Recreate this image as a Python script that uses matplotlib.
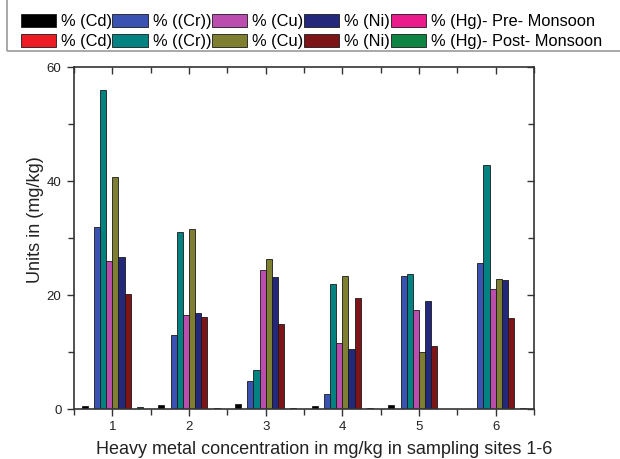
import matplotlib
matplotlib.use("Agg")
import matplotlib.pyplot as plt
from matplotlib.patches import Rectangle, Patch
from matplotlib.ticker import MultipleLocator
import numpy as np

plt.rcParams['font.family'] = ['Liberation Sans', 'DejaVu Sans']

sites = [1, 2, 3, 4, 5, 6]
cd_pre = [0.58, 0.75, 0.88, 0.58, 0.63, 0.0]
cd_post = [0.0, 0.0, 0.0, 0.0, 0.0, 0.0]
cr_pre = [32.0, 13.0, 5.0, 2.6, 23.3, 25.7]
cr_post = [55.9, 31.0, 6.9, 21.9, 23.6, 42.8]
cu_pre = [26.0, 16.5, 24.4, 11.6, 17.4, 21.1]
cu_post = [40.7, 31.5, 26.4, 23.3, 10.0, 22.8]
ni_pre = [26.6, 16.8, 23.2, 10.6, 19.0, 22.6]
ni_post = [20.2, 16.2, 15.0, 19.4, 11.1, 16.0]
hg_pre = [0.0, 0.0, 0.0, 0.0, 0.0, 0.0]
hg_post = [0.3, 0.2, 0.1, 0.1, 0.0, 0.2]

series = [cd_pre, cd_post, cr_pre, cr_post, cu_pre, cu_post, ni_pre, ni_post, hg_pre, hg_post]
labels = ["% (Cd)", "% (Cd)", "% ((Cr))", "% ((Cr))", "% (Cu)", "% (Cu)",
          "% (Ni)", "% (Ni)", "% (Hg)- Pre- Monsoon", "% (Hg)- Post- Monsoon"]
colors = ["#000000", "#ED1C24", "#3A52B2", "#048282", "#BA4DAE", "#7F7F31",
          "#23287A", "#7C1418", "#EC1B8C", "#0E8442"]

W, H = 620, 459
fig = plt.figure(figsize=(W / 100, H / 100), dpi=100)
ax = fig.add_axes([74 / W, 1 - 409 / H, (534 - 74) / W, (409 - 67) / H])

x = np.array(sites, dtype=float)
bw = 0.08
n = len(series)
for i, (vals, c) in enumerate(zip(series, colors)):
    off = (i - (n - 1) / 2) * bw
    ax.bar(x + off, vals, width=bw, color=c, edgecolor="#1a1a1a", linewidth=0.6)

ax.set_xlim(0.5, 6.5)
ax.set_ylim(0, 60)
ax.set_xticks(sites)
ax.set_yticks([0, 20, 40, 60])
ax.xaxis.set_minor_locator(MultipleLocator(0.5))
ax.yaxis.set_minor_locator(MultipleLocator(10))
for sp in ax.spines.values():
    sp.set_color("#333333")
    sp.set_linewidth(1.2)
ax.tick_params(axis='both', which='both', direction='out', color="#333333", width=1.0,
               labelsize=9.5, labelcolor="#222222")
ax.tick_params(axis='both', which='major', length=5, pad=4)
ax.tick_params(axis='both', which='minor', length=4)

# mirrored ticks on top and right (inward)
axt = ax.secondary_xaxis('top')
axt.set_xticks(sites)
axt.xaxis.set_minor_locator(MultipleLocator(0.5))
axt.tick_params(which='both', direction='in', labeltop=False, color="#333333", width=1.0)
axt.tick_params(which='major', length=5)
axt.tick_params(which='minor', length=4)
axr = ax.secondary_yaxis('right')
axr.set_yticks([0, 20, 40, 60])
axr.yaxis.set_minor_locator(MultipleLocator(10))
axr.tick_params(which='both', direction='in', labelright=False, color="#333333", width=1.0)
axr.tick_params(which='major', length=5)
axr.tick_params(which='minor', length=4)
for a in (axt, axr):
    for sp in a.spines.values():
        sp.set_visible(False)

fig.text(35 / W, 1 - 220 / H, "Units in (mg/kg)", rotation=90, ha='center', va='center',
         fontsize=13, color="#222222")
fig.text(324 / W, 1 - 450 / H, "Heavy metal concentration in mg/kg in sampling sites 1-6",
         ha='center', va='center', fontsize=13, color="#222222")

# legend
handles = [Patch(facecolor=c, edgecolor="#1a1a1a", linewidth=0.6) for c in colors]
fig.legend(handles, labels, ncol=5, loc='upper left',
           bbox_to_anchor=(20.5 / W, 1 - 14 / H), frameon=False,
           fontsize=11.8, handlelength=2.15, handleheight=0.85,
           handletextpad=0.3, columnspacing=0.05, labelspacing=0.28,
           borderpad=0, borderaxespad=0)
fig.add_artist(Rectangle((7 / W, 1 - 51 / H), 1.0, 51 / H + 0.05,
                         transform=fig.transFigure, facecolor='none',
                         edgecolor="#9a9a9a", linewidth=1.2))

fig.savefig("out.png", dpi=100)
